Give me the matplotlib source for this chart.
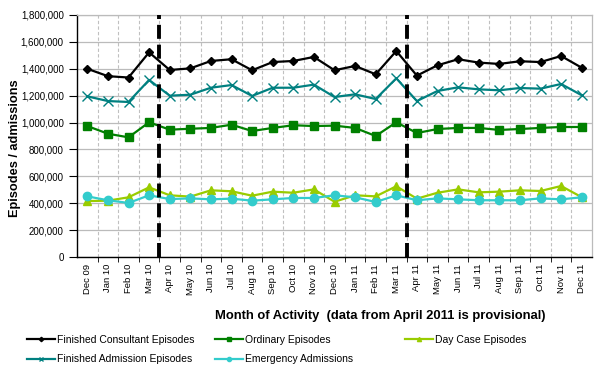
import matplotlib
matplotlib.use("Agg")
import matplotlib.pyplot as plt
from matplotlib import font_manager
import numpy as np

months = ["Dec 09", "Jan 10", "Feb 10", "Mar 10", "Apr 10", "May 10", "Jun 10", "Jul 10",
          "Aug 10", "Sep 10", "Oct 10", "Nov 10", "Dec 10", "Jan 11", "Feb 11", "Mar 11",
          "Apr 11", "May 11", "Jun 11", "Jul 11", "Aug 11", "Sep 11", "Oct 11", "Nov 11", "Dec 11"]

fce = [1400000, 1345000, 1335000, 1522000, 1391000, 1403000, 1458000, 1471000, 1389000,
       1450000, 1458000, 1488000, 1389000, 1421000, 1359000, 1532000, 1349000, 1426000,
       1471000, 1446000, 1436000, 1456000, 1450000, 1495000, 1408000]
fae = [1195000, 1160000, 1153000, 1317000, 1200000, 1207000, 1259000, 1279000, 1198000,
       1259000, 1259000, 1282000, 1190000, 1210000, 1175000, 1329000, 1160000, 1235000,
       1262000, 1247000, 1240000, 1257000, 1252000, 1287000, 1203000]
ordinary = [974000, 917000, 890000, 1002000, 947000, 954000, 960000, 984000, 937000,
            960000, 980000, 974000, 977000, 960000, 900000, 1002000, 922000, 952000,
            960000, 960000, 945000, 952000, 960000, 967000, 967000]
daycase = [416000, 419000, 444000, 518000, 459000, 449000, 496000, 489000, 456000,
           486000, 478000, 503000, 411000, 459000, 451000, 526000, 434000, 478000,
           503000, 481000, 486000, 496000, 491000, 528000, 445000]
emergency = [451000, 422000, 402000, 459000, 431000, 436000, 429000, 434000, 419000,
             429000, 439000, 439000, 459000, 444000, 409000, 459000, 422000, 436000,
             429000, 422000, 422000, 422000, 436000, 429000, 444000]

# year boundaries (between Mar and Apr)
splits = [3.5, 15.5]

plt.rcParams['font.family'] = ['Liberation Sans', 'DejaVu Sans']

installed = {f.name for f in font_manager.fontManager.ttflist}
have_narrow = 'Liberation Sans Narrow' in installed
narrow = ['Liberation Sans Narrow', 'Liberation Sans', 'DejaVu Sans']

fig = plt.figure(figsize=(5.97, 3.77), dpi=100)
ax = fig.add_axes([77/597, 1-257/377, (592-77)/597, (257-15)/377])

x = np.arange(len(months))
lines = {}
lines['fce'], = ax.plot(x, fce, color='black', lw=1.6, marker='D', ms=4.5, zorder=5,
                        label="Finished Consultant Episodes")
lines['ord'], = ax.plot(x, ordinary, color='#008000', lw=1.6, marker='s', ms=6, zorder=5,
                        label="Ordinary Episodes")
lines['day'], = ax.plot(x, daycase, color='#99CC00', lw=1.6, marker='^', ms=6, zorder=5,
                        label="Day Case Episodes")
lines['fae'], = ax.plot(x, fae, color='#008080', lw=1.6, marker='x', ms=7, mew=1.0, zorder=5,
                        label="Finished Admission Episodes")
lines['em'], = ax.plot(x, emergency, color='#33CCCC', lw=1.6, marker='o', ms=6, zorder=6,
                       label="Emergency Admissions")

for s in splits:
    ax.axvline(s, color='black', lw=2.8, ls=(0, (3.6, 1.5)), zorder=7)

ax.set_xlim(-0.5, len(months) - 0.5)
ax.set_ylim(0, 1800000)
ax.set_yticks(np.arange(0, 1800001, 200000))
ax.set_yticklabels(["{:,}".format(v) for v in range(0, 1800001, 200000)], fontsize=7)
ax.yaxis.grid(True, color='#BBBBBB', lw=0.9)

ax.set_xticks(x)
if have_narrow:
    ax.set_xticklabels(months, rotation=90, fontsize=7, family=narrow)
else:
    ax.set_xticklabels(months, rotation=90, fontsize=6.8)
ax.tick_params(axis='x', length=0, pad=5)
ax.set_xticks(np.arange(0.5, len(months) - 1, 1), minor=True)
ax.tick_params(axis='x', which='minor', length=3.5, direction='out', color='black')
ax.tick_params(axis='y', length=5.5, direction='out', pad=4)
ax.xaxis.grid(True, which='minor', color='#C0C0C0', lw=0.8, ls=(0, (3, 2)))
ax.set_axisbelow(True)

for side in ['top', 'right']:
    ax.spines[side].set_color('#BBBBBB')
    ax.spines[side].set_linewidth(0.9)
for side in ['left', 'bottom']:
    ax.spines[side].set_color('black')
    ax.spines[side].set_linewidth(1.0)

xlab = "Month of Activity  (data from April 2011 is provisional)"
if have_narrow:
    fig.text(380/597, 1-316/377, xlab, ha='center', va='center', fontsize=11,
             fontweight='bold', family=narrow)
else:
    fig.text(380/597, 1-316/377, xlab, ha='center', va='center', fontsize=9.4,
             fontweight='bold')
fig.text(15/597, 1-148/377, "Episodes / admissions", rotation=90, ha='center', va='center',
         fontsize=9.2, fontweight='bold')

# legend laid out in fixed columns like the original
cols = [(27, [lines['fce'], lines['fae']]),
        (215, [lines['ord'], lines['em']]),
        (405, [lines['day']])]
for xpos, hs in cols:
    fig.legend(handles=hs, loc='upper left', bbox_to_anchor=(xpos/597, 1-335/377),
               frameon=False, fontsize=7.5, handlelength=2.7, handletextpad=0.2,
               borderpad=0, borderaxespad=0, labelspacing=0.9, markerscale=0.5)

fig.savefig("out.png", dpi=100)
